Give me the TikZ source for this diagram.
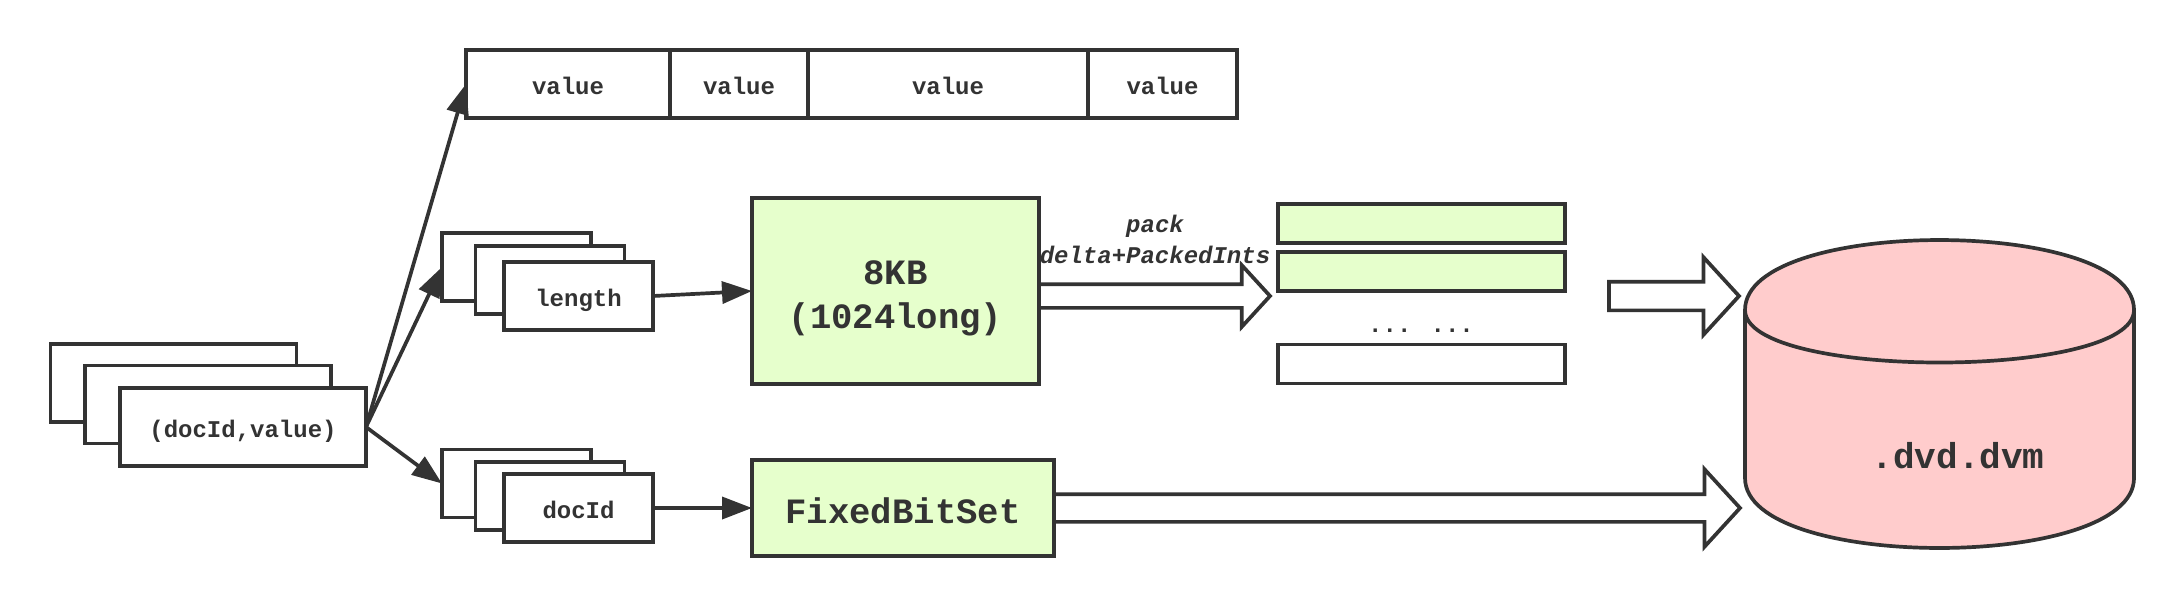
\documentclass[tikz,border=0pt]{standalone}
\usepackage{fontspec}
\setmainfont{Liberation Mono}
\usepackage{tikz}
\usetikzlibrary{shapes.arrows, arrows.meta}

\definecolor{inkgray}{HTML}{333333}
\definecolor{blockgreen}{HTML}{E6FFCC}
\definecolor{diskred}{HTML}{FFCCCC}

\tikzset{
  ink/.style={draw=inkgray, line width=1.85pt, text=inkgray},
  cell/.style={ink, rectangle, fill=white, outer sep=0pt, inner sep=0pt, text height=10.5pt, text depth=0pt, font=\bfseries\fontsize{12}{14}\selectfont},
  pairbox/.style={cell, minimum width=123pt, minimum height=39pt},
  fieldbox/.style={cell, minimum width=74.5pt, minimum height=34pt},
  greenbox/.style={ink, rectangle, outer sep=0pt, inner sep=0pt, fill=blockgreen, align=center, font=\bfseries\fontsize{17.8}{22}\selectfont},
  packed/.style={cell, minimum width=143.5pt, minimum height=19.5pt},
  hollow/.style={ink, single arrow, fill=white, shape border rotate=0, anchor=tail, outer sep=0pt, inner xsep=0pt, single arrow tip angle=95},
  link/.style={draw=inkgray, line width=1.85pt, -{Triangle[length=15pt,width=11pt]}},
  caption/.style={text=inkgray, inner sep=0pt, font=\bfseries\fontsize{12}{15}\selectfont}
}

\begin{document}
\begin{tikzpicture}[x=0.5pt, y=-0.5pt]
\useasboundingbox (0,0) rectangle (2183,606);

% values row
\node[cell, minimum width=102pt, minimum height=34pt] (valueA) at (568,84) {value};
\node[cell, minimum width=68.5pt, minimum height=34pt] (valueB) at (739,84) {value};
\node[cell, minimum width=140pt, minimum height=34pt] (valueC) at (948,84) {value};
\node[cell, minimum width=74.5pt, minimum height=34pt] (valueD) at (1162.5,84) {value};

% input stack
\node[pairbox] (pairBack) at (173.5,383) {};
\node[pairbox] (pairMid) at (208,404.5) {};
\node[pairbox] (pairFront) at (243,427) {(docId,value)};

% length stack
\node[fieldbox] (lenBack) at (516.5,267) {};
\node[fieldbox] (lenMid) at (550,280) {};
\node[fieldbox] (lenFront) at (578.5,296) {length};

% docId stack
\node[fieldbox] (docBack) at (516.5,483.5) {};
\node[fieldbox] (docMid) at (550,496) {};
\node[fieldbox] (docFront) at (578.5,508) {docId};

% blocks
\node[greenbox, minimum width=143.5pt, minimum height=93pt] (block) at (895.5,291) {\rule{0pt}{19.5pt}8KB\\(1024long)};
\node[greenbox, text height=15.5pt, text depth=0pt, minimum width=151pt, minimum height=48pt] (bitset) at (903,508) {FixedBitSet};

% packed blocks
\node[packed, fill=blockgreen] (packA) at (1421.5,223.5) {};
\node[packed, fill=blockgreen] (packB) at (1421.5,271.5) {};
\node[packed] (packC) at (1421.5,364) {};
\node[caption, anchor=base] (dots) at (1421,332) {... ...};

% hollow arrows
\node[hollow, minimum height=115.5pt, minimum width=29pt, inner ysep=5pt, single arrow head extend=9.5pt] (packArrow) at (1039,296) {};
\node[hollow, minimum height=65pt, minimum width=37pt, inner ysep=6.25pt, single arrow head extend=12.25pt] (diskArrow) at (1609,296) {};
\node[hollow, minimum height=343pt, minimum width=37pt, inner ysep=6pt, single arrow head extend=12.5pt] (bitsetArrow) at (1054,508) {};

\node[caption, align=center, font=\bfseries\itshape\fontsize{12}{15.5}\selectfont] (packLabel) at (1155,239.5) {pack\\delta+PackedInts};

% disk
\draw[ink, fill=diskred] (1745,310) .. controls (1745,216.7) and (2134,216.7) .. (2134,310)
  -- (2134,478) .. controls (2134,571.3) and (1745,571.3) .. (1745,478) -- cycle;
\draw[ink] (1745,310) .. controls (1745,380) and (2134,380) .. (2134,310);
\node[caption, font=\bfseries\fontsize{18}{22}\selectfont] (disk) at (1958,456) {.dvd.dvm};

% links
\draw[link] (pairFront.east) -- (valueA.west);
\draw[link] (pairFront.east) -- (lenBack.west);
\draw[link] (pairFront.east) -- (docBack.west);
\draw[link] (lenFront.east) -- (block.west);
\draw[link] (docFront.east) -- (bitset.west);
\end{tikzpicture}
\end{document}
